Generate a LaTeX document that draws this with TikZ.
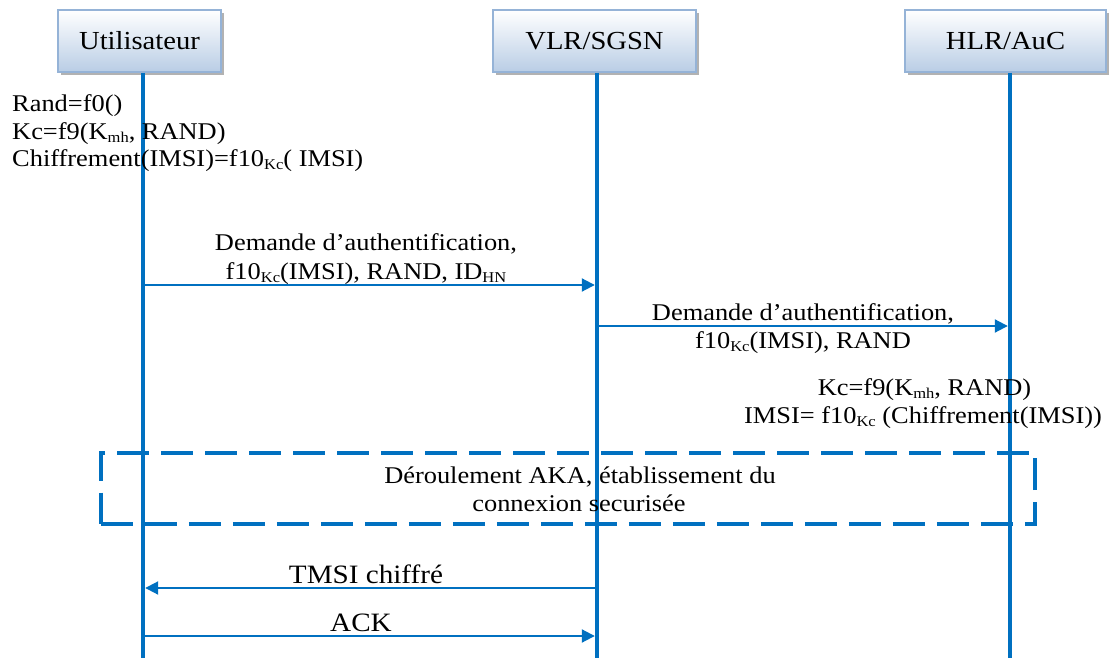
\documentclass[tikz,border=0pt]{standalone}
\usepackage{fontspec}
\setmainfont{Liberation Serif}[FakeStretch=1.1]
\usetikzlibrary{arrows.meta,shadows}
\definecolor{lifeblue}{RGB}{0,112,192}
\definecolor{boxedge}{RGB}{149,179,215}
\definecolor{boxbottom}{RGB}{185,205,229}
\newcommand\lowsub[1]{\raisebox{-3pt}{\fontsize{15}{15}\selectfont #1}}
\begin{document}
\begin{tikzpicture}[x=1pt,y=-1pt,
  actor/.style={draw=boxedge, line width=1.8pt, top color=white, bottom color=boxbottom,
    minimum height=62pt, inner sep=0pt, font=\fontsize{26}{28}\selectfont,
    general shadow={fill=gray!60, shadow xshift=3pt, shadow yshift=-3pt}},
  lifeline/.style={draw=lifeblue, line width=4.5pt},
  msg/.style={draw=lifeblue, line width=2pt, shorten >=2.2pt, -{Triangle[length=13pt,width=13pt]}},
  txt/.style={font=\fontsize{24}{27}\selectfont, inner sep=0pt, anchor=base},
  bigtxt/.style={font=\fontsize{26.5}{28}\selectfont, inner sep=0pt, anchor=base},
  dashbox/.style={draw=lifeblue, line width=4pt, dash pattern=on 32pt off 12pt, inner sep=0pt}]
\useasboundingbox (0,0) rectangle (1109,658);

% actors
\node[actor, minimum width=163pt] (u) at (139.5,41) {Utilisateur};
\node[actor, minimum width=203pt] (v) at (594.5,41) {VLR/SGSN};
\node[actor, minimum width=201pt] (h) at (1005.5,41) {HLR/AuC};

% lifeline ends
\coordinate (uend) at (143,658);
\coordinate (vend) at (597,658);
\coordinate (hend) at (1010,658);
\draw[lifeline] (u.south -| uend) -- (uend);
\draw[lifeline] (v.south -| vend) -- (vend);
\draw[lifeline] (h.south -| hend) -- (hend);

% user computations
\node[txt, anchor=base west] (ut1) at (12,112) {Rand=f0()};
\node[txt, anchor=base west] (ut2) at (12,139.5) {Kc=f9(K\lowsub{mh}, RAND)};
\node[txt, anchor=base west] (ut3) at (12,167) {Chiffrement(IMSI)=f10\lowsub{Kc}( IMSI)};

% message 1
\coordinate (m1s) at (143,285);
\coordinate (m1e) at (597,285);
\draw[msg] (m1s) -- (m1e);
\node[txt] (l1a) at (366,250.7) {Demande d’authentification,};
\node[txt] (l1b) at (366,279) {f10\lowsub{Kc}(IMSI), RAND, ID\lowsub{HN}};

% message 2
\coordinate (m2s) at (597,326);
\coordinate (m2e) at (1010,326);
\draw[msg] (m2s) -- (m2e);
\node[txt] (l2a) at (803,320.7) {Demande d’authentification,};
\node[txt] (l2b) at (803,348) {f10\lowsub{Kc}(IMSI), RAND};

% HLR computations
\node[txt] (ht1) at (924.5,395) {Kc=f9(K\lowsub{mh}, RAND)};
\node[txt] (ht2) at (923,423) {IMSI= f10\lowsub{Kc} (Chiffrement(IMSI))};

% AKA box
\node[dashbox, minimum width=934.5pt, minimum height=71pt] (aka) at (568,488) {};
\node[txt] (akat1) at (580,483) {Déroulement AKA, établissement du};
\node[txt] (akat2) at (579,511) {connexion securisée};

% message 3
\coordinate (m3s) at (597,588);
\coordinate (m3e) at (143,588);
\draw[msg] (m3s) -- (m3e);
\node[bigtxt] (l3) at (366,583.3) {TMSI chiffré};

% message 4
\coordinate (m4s) at (143,636);
\coordinate (m4e) at (597,636);
\draw[msg] (m4s) -- (m4e);
\node[bigtxt] (l4) at (361,631.7) {ACK};
\end{tikzpicture}
\end{document}
